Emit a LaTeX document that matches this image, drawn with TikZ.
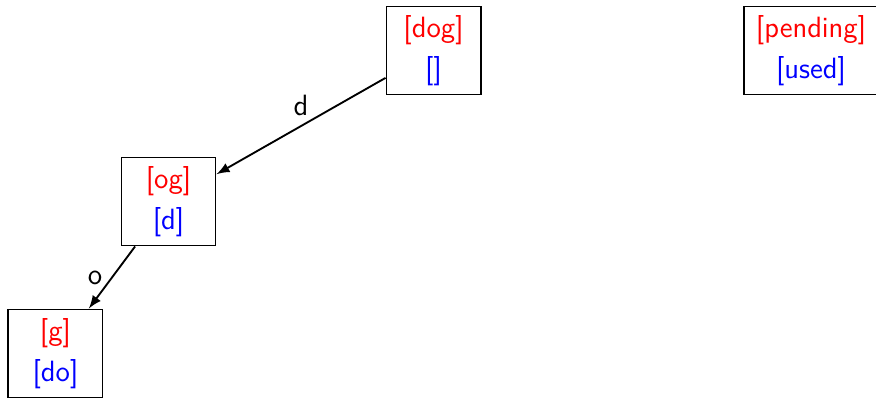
\documentclass[tikz,border=0pt]{standalone}
\usetikzlibrary{arrows}

\tikzset{
  state/.style = {draw, line width=0.7pt, align=center,
                  font=\sffamily\fontsize{11}{13}\selectfont,
                  minimum width=1.24cm, minimum height=1.16cm},
  edgelbl/.style = {font=\sffamily\fontsize{11}{13}\selectfont}
}
\newcommand{\rest}[2]{\textcolor{red}{[#1]}\\[2.2pt]\textcolor{blue}{[#2]}}

\begin{document}
\begin{tikzpicture}[>=latex]
\useasboundingbox (0,0) rectangle (11.546,-5.246);
% the three steps of the search
\node [state] (dog) at (5.714,-0.666) {\rest{dog}{}};
\node [state] (og)  at (2.221,-2.656) {\rest{og}{d}};
\node [state] (g)   at (0.731,-4.659) {\rest{g}{do}};
% key
\node [state, minimum width=1.77cm] (key) at (10.69,-0.666) {\rest{pending}{used}};
\draw [line width=0.7pt, ->] (dog) -- node [edgelbl, above] {d} (og);
\draw [line width=0.7pt, ->] (og) -- node [edgelbl, left] {o} (g);
\end{tikzpicture}
\end{document}
